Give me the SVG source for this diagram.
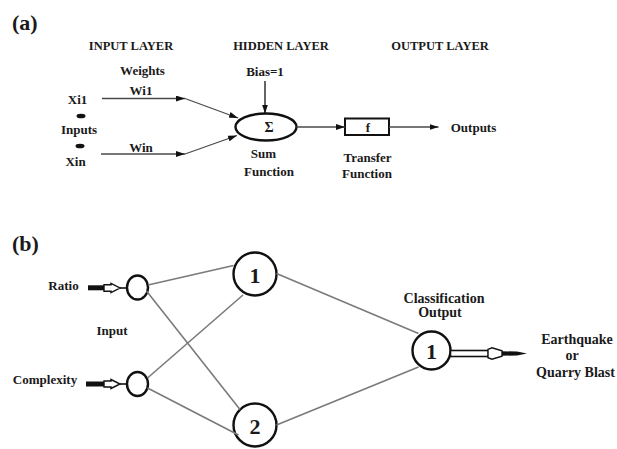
<svg xmlns="http://www.w3.org/2000/svg" width="617" height="449" viewBox="0 0 617 449">
<style>
text{font-family:"Liberation Serif","Times New Roman",serif;font-weight:bold;fill:#1a1a1a;text-anchor:middle}
.hd{font-size:12.5px}
.lb{font-size:13px}
.lb14{font-size:14px}
.pl{font-size:22px;text-anchor:start}
.num{font-size:22px}
.ga{stroke:#4a4a4a;stroke-width:1.3;fill:none}
.gb{stroke:#7a7a7a;stroke-width:1.6;fill:none}
.nd{fill:#fff;stroke:#111;stroke-width:2.4}
</style>
<defs>
<marker id="ah" markerUnits="userSpaceOnUse" markerWidth="10" markerHeight="6" refX="9" refY="3" orient="auto">
<path d="M0,0 L9,3 L0,6 Z" fill="#111"/>
</marker>
</defs>
<rect width="617" height="449" fill="#fff"/>

<!-- panel labels -->
<text class="pl" x="12" y="30">(a)</text>
<text class="pl" x="12" y="251">(b)</text>

<!-- (a) layer headings -->
<text class="hd" x="131" y="49.5">INPUT LAYER</text>
<text class="hd" x="281" y="49.5">HIDDEN LAYER</text>
<text class="hd" x="440" y="49.5">OUTPUT LAYER</text>

<g id="a-inputs">
<text class="lb" x="77.5" y="104">Xi1</text>
<ellipse cx="81" cy="116" rx="4.5" ry="2.3" fill="#111"/>
<text class="lb" x="79" y="134">Inputs</text>
<ellipse cx="80" cy="146" rx="4.5" ry="2.3" fill="#111"/>
<text class="lb" x="75.5" y="166">Xin</text>
</g>
<g id="a-weights">
<text class="lb" x="142.5" y="75">Weights</text>
<text class="lb" x="141" y="95">Wi1</text>
<text class="lb" x="141" y="152">Win</text>
</g>
<g id="a-bias">
<text class="lb" x="265" y="76">Bias=1</text>
</g>
<g id="a-sum">
<ellipse class="nd" cx="266" cy="127" rx="30.5" ry="13.5"/>
<text x="269" y="132" style="font-size:14px">Σ</text>
<text class="lb" x="263.5" y="158">Sum</text>
<text class="lb" x="269" y="175.5">Function</text>
</g>
<g id="a-transfer">
<rect x="345" y="118.5" width="44" height="16.5" fill="#fff" stroke="#111" stroke-width="2"/>
<text class="lb" x="368" y="131.5">f</text>
<text class="lb" x="367.5" y="161.5">Transfer</text>
<text class="lb" x="367" y="177.5">Function</text>
</g>
<g id="a-outputs">
<text class="lb" x="473.5" y="131.5">Outputs</text>
</g>

<!-- (b) nodes -->
<g id="b-ratio">
<text class="lb" x="63.5" y="290">Ratio</text>
</g>
<g id="b-complexity">
<text class="lb" x="45" y="384">Complexity</text>
</g>
<g id="b-input-label">
<text class="lb" x="112" y="335">Input</text>
</g>
<g id="b-in1"><ellipse class="nd" cx="137.5" cy="287.5" rx="10.5" ry="12"/></g>
<g id="b-in2"><ellipse class="nd" cx="137.5" cy="384" rx="10.5" ry="12"/></g>
<g id="b-h1">
<circle class="nd" cx="255" cy="274" r="21.5"/>
<text class="num" x="255" y="282.5">1</text>
</g>
<g id="b-h2">
<circle class="nd" cx="255" cy="425" r="21.5"/>
<text class="num" x="255" y="433.5">2</text>
</g>
<g id="b-out">
<circle class="nd" cx="431.5" cy="350.5" r="19"/>
<text class="num" x="431.5" y="358.5">1</text>
<text class="lb14" x="444" y="302.5">Classification</text>
<text class="lb14" x="440" y="317">Output</text>
</g>
<g id="b-result">
<text class="lb14" x="577" y="344">Earthquake</text>
<text class="lb14" x="572" y="360">or</text>
<text class="lb14" x="575.5" y="376.5">Quarry Blast</text>
</g>

<g id="connectors">
<!-- (a) -->
<line class="ga" x1="102" y1="98.5" x2="185" y2="98.5" marker-end="url(#ah)"/>
<line class="ga" x1="185" y1="98.5" x2="238" y2="118" marker-end="url(#ah)"/>
<line class="ga" x1="101" y1="154" x2="185" y2="154" marker-end="url(#ah)"/>
<line class="ga" x1="185" y1="154" x2="237" y2="135.5" marker-end="url(#ah)"/>
<line class="ga" x1="265" y1="81" x2="265" y2="113.5" marker-end="url(#ah)" style="stroke:#111"/>
<line class="ga" x1="296.5" y1="127" x2="345" y2="127" marker-end="url(#ah)"/>
<line class="ga" x1="389" y1="127" x2="438.5" y2="127" marker-end="url(#ah)"/>
<!-- (b) thick input arrows -->
<rect x="88" y="285.3" width="17" height="5" fill="#111"/>
<path d="M104,284.8 L111,284.8 L111,283.3 L120,288 L111,292.7 L111,291.2 L104,291.2 Z" fill="#fff" stroke="#111" stroke-width="1.4"/>
<line x1="120" y1="288" x2="127" y2="288" stroke="#111" stroke-width="1.6"/>
<rect x="86" y="381.5" width="19" height="5" fill="#111"/>
<path d="M104,381 L111,381 L111,379.5 L120,384 L111,388.5 L111,387 L104,387 Z" fill="#fff" stroke="#111" stroke-width="1.4"/>
<line x1="120" y1="384" x2="127" y2="384" stroke="#111" stroke-width="1.6"/>
<!-- (b) network links -->
<line class="gb" x1="148" y1="285" x2="233.5" y2="265.5"/>
<line class="gb" x1="146.5" y1="291" x2="240" y2="409.5"/>
<line class="gb" x1="147.5" y1="378" x2="243" y2="295"/>
<line class="gb" x1="147.5" y1="388" x2="238.5" y2="435"/>
<line class="gb" x1="276.5" y1="273.5" x2="418.5" y2="333.5"/>
<line class="gb" x1="276.5" y1="425" x2="418.5" y2="367"/>
<!-- (b) output arrow -->
<rect x="450.5" y="350.5" width="38" height="6" fill="#fff" stroke="#111" stroke-width="1.6"/>
<path d="M488,349.3 L492,347.8 L502,350.8 L502,356.2 L492,359.2 L488,357.7 Z" fill="#fff" stroke="#111" stroke-width="1.4"/>
<path d="M502,351.2 L517,351.6 L527,353.5 L517,355.4 L502,355.8 Z" fill="#111"/>
</g>
</svg>
